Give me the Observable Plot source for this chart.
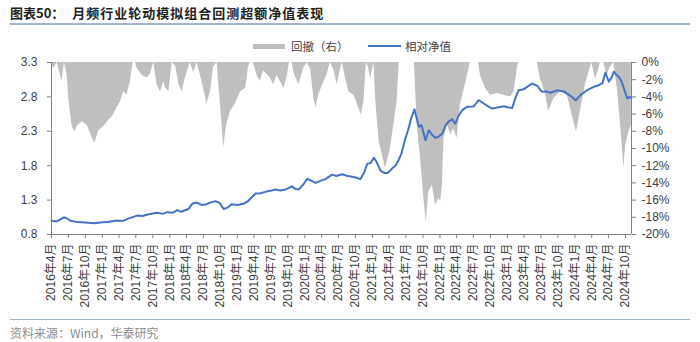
<!DOCTYPE html>
<html><head><meta charset="utf-8">
<script src="https://cdn.jsdelivr.net/npm/d3@7"></script>
<script src="https://cdn.jsdelivr.net/npm/@observablehq/plot@0.6"></script>
<style>
body{margin:0;width:700px;height:342px;background:#fff;font-family:"Liberation Sans","Noto Sans CJK SC",sans-serif;overflow:hidden}
#title{margin:0 10px;padding-top:3px;height:20px;line-height:20px;border-bottom:2px solid #a3b5d3;font-family:"Noto Sans CJK SC",sans-serif;font-weight:bold;font-size:13px;color:#222;white-space:nowrap}
#title .t2{margin-left:8px;letter-spacing:1px}
#legend{position:relative;height:31px}
#legend .sw{position:absolute}
#legend .lt{position:absolute;top:14px;font-size:11.5px;line-height:14px;color:#404040;font-family:"Noto Sans CJK SC",sans-serif;white-space:nowrap}
#chart svg{display:block}
#source{margin:7px 10px 0 10px;border-top:1.5px solid #a3b5d3;padding-top:4px;font-size:12px;color:#8c8c8c;font-family:"Noto Sans CJK SC","Liberation Sans",sans-serif}
</style></head><body>
<div id="title">图表50：<span class="t2">月频行业轮动模拟组合回测超额净值表现</span></div>
<div id="legend">
  <div class="sw" style="left:253px;top:19px;width:32px;height:5px;background:#bfbfbf"></div>
  <div class="lt" style="left:291px">回撤（右）</div>
  <div class="sw" style="left:368px;top:20px;width:33px;height:2px;background:#4472c4"></div>
  <div class="lt" style="left:405px">相对净值</div>
</div>
<div id="chart"></div>
<div id="source">资料来源：Wind，华泰研究</div>
<script>
const leftTicks = [0.8, 1.3, 1.8, 2.3, 2.8, 3.3];
const rightTicks = [0, -2, -4, -6, -8, -10, -12, -14, -16, -18, -20];
const xTicks = ["2016-04-01","2016-07-01","2016-10-01","2017-01-01","2017-04-01","2017-07-01","2017-10-01",
  "2018-01-01","2018-04-01","2018-07-01","2018-10-01","2019-01-01","2019-04-01","2019-07-01","2019-10-01",
  "2020-01-01","2020-04-01","2020-07-01","2020-10-01","2021-01-01","2021-04-01","2021-07-01","2021-10-01",
  "2022-01-01","2022-04-01","2022-07-01","2022-10-01","2023-01-01","2023-04-01","2023-07-01","2023-10-01",
  "2024-01-01","2024-04-01","2024-07-01","2024-10-01"];

const navDates = ["2016-04-01","2016-04-28","2016-05-19","2016-06-07","2016-06-26","2016-07-12","2016-08-19","2016-10-02","2016-11-16","2016-12-22",
  "2017-02-05","2017-03-21","2017-04-19","2017-05-21","2017-07-08","2017-08-06","2017-09-08","2017-10-24","2017-11-23","2017-12-18",
  "2018-01-16","2018-02-11","2018-03-04","2018-04-11","2018-05-03","2018-05-28","2018-06-21","2018-07-17","2018-08-14","2018-09-05",
  "2018-09-27","2018-10-19","2018-11-09","2018-11-30","2019-01-03","2019-02-06","2019-02-26","2019-03-12","2019-04-09","2019-05-05",
  "2019-06-02","2019-06-29","2019-07-25","2019-08-22","2019-09-19","2019-10-24","2019-11-12","2019-11-30","2019-12-25","2020-01-14",
  "2020-02-07","2020-02-28","2020-03-25","2020-04-22","2020-05-27","2020-06-20","2020-07-21","2020-08-14","2020-09-14","2020-10-07",
  "2020-10-28","2020-11-17","2020-12-04","2020-12-22","2021-01-09","2021-01-24","2021-02-15","2021-03-12","2021-03-28","2021-04-17",
  "2021-05-05","2021-05-22","2021-06-07","2021-06-28","2021-07-14","2021-07-29","2021-08-16","2021-08-29","2021-09-09","2021-09-23",
  "2021-10-15","2021-11-02","2021-11-19","2021-12-08","2021-12-24","2022-01-14","2022-02-01","2022-02-17","2022-03-07","2022-03-25",
  "2022-04-11","2022-05-01","2022-05-27","2022-07-02","2022-07-29","2022-08-26","2022-09-21","2022-10-11","2022-11-07","2022-12-12",
  "2023-01-08","2023-01-27","2023-02-15","2023-03-03","2023-03-29","2023-04-19","2023-05-14","2023-06-11","2023-07-07","2023-07-30",
  "2023-08-21","2023-09-27","2023-11-02","2023-12-08","2024-01-05","2024-02-01","2024-03-07","2024-04-12","2024-05-09","2024-05-29",
  "2024-06-14","2024-07-02","2024-07-17","2024-07-29","2024-08-13","2024-08-26","2024-09-10","2024-09-22","2024-10-01","2024-10-10",
  "2024-10-22","2024-11-01"];
const navValues = [1.00,0.99,1.02,1.05,1.03,1.00,0.98,0.975,0.965,0.975,
  0.985,1.005,0.995,1.03,1.075,1.07,1.095,1.115,1.10,1.125,
  1.115,1.155,1.13,1.17,1.25,1.265,1.23,1.24,1.27,1.285,
  1.26,1.17,1.19,1.24,1.23,1.25,1.28,1.32,1.395,1.40,
  1.42,1.435,1.455,1.44,1.455,1.50,1.46,1.455,1.53,1.61,
  1.58,1.55,1.58,1.605,1.67,1.65,1.675,1.655,1.64,1.625,
  1.605,1.70,1.83,1.84,1.915,1.85,1.72,1.69,1.70,1.76,
  1.80,1.88,1.98,2.195,2.33,2.486,2.62,2.48,2.365,2.39,
  2.17,2.316,2.25,2.205,2.22,2.268,2.39,2.44,2.476,2.41,
  2.52,2.607,2.656,2.66,2.752,2.704,2.66,2.63,2.645,2.665,
  2.645,2.64,2.80,2.897,2.91,2.95,2.995,2.96,2.874,2.88,
  2.86,2.897,2.88,2.816,2.752,2.83,2.897,2.947,2.97,3.00,
  3.155,3.02,3.08,3.165,3.12,3.09,3.02,2.92,2.85,2.777,
  2.80,2.78];

const ddDates = ["2016-04-01","2016-04-14","2016-05-01","2016-05-28","2016-06-10","2016-06-25","2016-07-03","2016-07-21","2016-08-04","2016-08-18",
  "2016-09-15","2016-10-11","2016-11-08","2016-11-22","2016-12-13","2017-01-10","2017-02-06","2017-02-24","2017-03-21","2017-04-09",
  "2017-04-26","2017-05-14","2017-06-02","2017-06-17","2017-06-29","2017-07-08","2017-08-05","2017-09-01","2017-09-19","2017-10-06",
  "2017-10-24","2017-11-12","2017-11-30","2017-12-09","2017-12-27","2018-01-14","2018-02-02","2018-02-20","2018-03-08","2018-03-25",
  "2018-04-22","2018-05-10","2018-05-28","2018-06-24","2018-07-21","2018-08-09","2018-08-26","2018-09-14","2018-09-23","2018-10-11",
  "2018-10-19","2018-11-04","2018-11-25","2018-12-22","2019-01-19","2019-02-15","2019-03-03","2019-03-12","2019-03-28","2019-04-18",
  "2019-05-05","2019-05-23","2019-06-11","2019-06-29","2019-07-16","2019-08-04","2019-08-22","2019-09-10","2019-09-28","2019-10-10",
  "2019-10-24","2019-11-03","2019-11-30","2019-12-27","2020-01-14","2020-02-02","2020-02-19","2020-03-02","2020-03-16","2020-04-07",
  "2020-05-01","2020-05-18","2020-06-06","2020-06-24","2020-07-06","2020-07-21","2020-08-08","2020-08-26","2020-09-23","2020-10-19",
  "2020-11-02","2020-11-16","2020-11-29","2020-12-11","2020-12-22","2021-01-09","2021-01-18","2021-02-06","2021-02-24","2021-03-12",
  "2021-03-26","2021-04-08","2021-04-26","2021-05-14","2021-05-26","2021-08-16","2021-08-31","2021-09-18","2021-10-06","2021-10-19",
  "2021-11-02","2021-11-21","2021-12-08","2021-12-26","2022-01-05","2022-01-14","2022-01-23","2022-02-10","2022-02-28","2022-03-16",
  "2022-04-04","2022-04-21","2022-05-09","2022-05-27","2022-06-14","2022-07-29","2022-08-08","2022-09-04","2022-10-01","2022-11-07",
  "2022-12-12","2023-01-18","2023-02-06","2023-02-24","2023-03-03","2023-06-11","2023-06-28","2023-07-25","2023-08-12","2023-09-09",
  "2023-10-15","2023-11-21","2023-12-17","2024-01-10","2024-01-22","2024-02-10","2024-02-27","2024-03-16","2024-04-01","2024-04-21",
  "2024-05-09","2024-05-18","2024-06-05","2024-06-23","2024-07-11","2024-07-29","2024-08-17","2024-09-04","2024-09-22","2024-10-01",
  "2024-10-19","2024-11-01"];
const ddValues = [0,-0.7,0,-2.2,0,-1.5,-4.2,-7.3,-8.1,-7.4,
  -6.9,-7.3,-8.8,-9.4,-7.9,-7.4,-6.7,-6.3,-5.3,-4.6,
  -3.4,-3.8,-2.2,0,0,-0.7,-1.5,-1.8,-1.3,0,
  -2.6,-3.4,-2.2,-3.0,-3.4,0,-0.5,-2.6,-3.4,-1.9,
  0,-1.2,0,-2.2,-4.8,-3.4,-0.5,0,-2.6,-7.3,
  -10.0,-7.3,-5.7,-4.8,-3.4,-3.0,-0.5,0,0,-1.5,
  -2.2,-1.0,-1.4,-1.8,-2.6,-1.5,-2.2,-3.0,-1.7,0,
  0,-1.2,-2.6,-0.6,0,-0.8,-4.2,-5.3,-3.8,-2.6,
  -1.4,0,-0.8,-2.6,-1.4,0,-1.8,-3.4,-3.8,-5.3,
  -6.1,-4.6,0,-0.6,-1.9,0,-4.2,-9.2,-10.8,-12.3,
  -11.2,-10.0,-7.3,-4.6,0,0,-7.3,-11.2,-15.8,-18.5,
  -15.0,-14.3,-16.6,-15.8,-16.2,-14.3,-8.8,-7.3,-8.4,-7.7,
  -8.8,-5.0,-3.4,-1.8,0,0,-1.5,-3.0,-3.8,-3.6,
  -3.8,-4.0,-3.4,-0.6,0,0,-1.9,-3.6,-5.7,-4.2,
  -3.4,-3.8,-6.1,-8.1,-6.6,-4.5,-2.6,-1.2,0,-1.9,
  -0.8,0,0,-1.5,-0.5,0,-3.0,-7.3,-12.3,-9.7,
  -8.1,-7.3];

const parse = d3.utcParse("%Y-%m-%d");
const nav = navDates.map((d, i) => ({date: parse(d), v: navValues[i]}));
const dd = ddDates.map((d, i) => ({date: parse(d), p: ddValues[i]}));
const yTop = 3.3, ySpan = 2.5, pSpan = 20;
const toLeft = p => yTop + p / pSpan * ySpan;
const xStart = parse("2016-04-01"), xEnd = parse("2024-11-02");
const axisColor = "#7f7f7f";

const chart = Plot.plot({
  width: 700, height: 256,
  marginTop: 6, marginBottom: 78, marginLeft: 51, marginRight: 69,
  style: {fontFamily: '"Liberation Sans","Noto Sans CJK SC",sans-serif', fontSize: "12px", color: "#404040", background: "#fff"},
  x: {type: "utc", domain: [xStart, xEnd]},
  y: {domain: [0.8, 3.3]},
  marks: [
    Plot.areaY(dd, {x: "date", y1: yTop, y2: d => toLeft(d.p), fill: "#bfbfbf"}),
    Plot.lineY(nav, {x: "date", y: "v", stroke: "#4472c4", strokeWidth: 2}),
    Plot.ruleX([xStart], {stroke: axisColor}),
    Plot.ruleX([xEnd], {stroke: axisColor}),
    Plot.ruleY([0.8], {stroke: axisColor}),
    Plot.axisY(leftTicks, {anchor: "left", tickSize: 4, tickPadding: 10, stroke: axisColor, fill: "#404040", tickFormat: d => d.toFixed(1), label: null}),
    Plot.axisY(rightTicks.map(toLeft), {anchor: "right", tickSize: 4, tickPadding: 6, stroke: axisColor, fill: "#404040", tickFormat: v => String(Math.round((v - yTop) / ySpan * pSpan) || 0) + "%", label: null}),
    Plot.axisX(xTicks.map(parse), {anchor: "bottom", tickRotate: -90, tickSize: 4, tickPadding: 5, stroke: axisColor, fill: "#404040", tickFormat: d => `${d.getUTCFullYear()}年${d.getUTCMonth() + 1}月`, label: null})
  ]
});
document.getElementById("chart").appendChild(chart);
</script>
</body></html>
